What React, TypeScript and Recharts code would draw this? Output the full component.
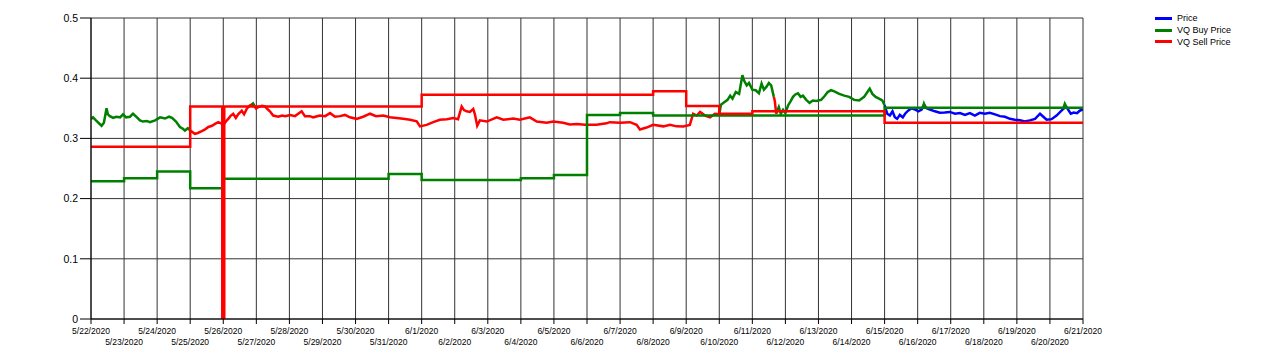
import React from "react";
import { LineChart, Line, XAxis, YAxis, CartesianGrid } from "recharts";

const FONT = '"Liberation Sans", Arial, sans-serif';
const BLUE = "#0000FF";
const GREEN = "#008000";
const RED = "#FF0000";

// x values are days since 5/22/2020
const dateLabels = [
  "5/22/2020", "5/23/2020", "5/24/2020", "5/25/2020", "5/26/2020", "5/27/2020",
  "5/28/2020", "5/29/2020", "5/30/2020", "5/31/2020", "6/1/2020", "6/2/2020",
  "6/3/2020", "6/4/2020", "6/5/2020", "6/6/2020", "6/7/2020", "6/8/2020",
  "6/9/2020", "6/10/2020", "6/11/2020", "6/12/2020", "6/13/2020", "6/14/2020",
  "6/15/2020", "6/16/2020", "6/17/2020", "6/18/2020", "6/19/2020", "6/20/2020",
  "6/21/2020",
];
const dayTicks = dateLabels.map((_, i) => i);
const priceTicks = [0, 0.1, 0.2, 0.3, 0.4, 0.5];

// step lines: day the level starts, level
const buyStepDays = [0, 1, 2, 3, 4, 9, 10, 13, 14, 15, 16, 17, 24];
const buyStepValues = [0.229, 0.234, 0.245, 0.217, 0.233, 0.241, 0.231, 0.234, 0.239, 0.339, 0.342, 0.338, 0.351];
const sellStepDays = [0, 3, 3.97, 4.03, 10, 17, 18, 19, 20, 24];
const sellStepValues = [0.286, 0.353, 0, 0.353, 0.3725, 0.3785, 0.354, 0.341, 0.345, 0.326];

// price trace, coloured by the zone it is in
const buyTraceA: [number, number][] = [
  [0, 0.332], [0.06, 0.335], [0.15, 0.33], [0.32, 0.321], [0.39, 0.326], [0.47, 0.35],
  [0.51, 0.34], [0.57, 0.337], [0.67, 0.334], [0.76, 0.336], [0.88, 0.335], [0.97, 0.34],
  [1.06, 0.335], [1.18, 0.336], [1.27, 0.341], [1.39, 0.335], [1.48, 0.33], [1.57, 0.328],
  [1.69, 0.329], [1.78, 0.327], [1.94, 0.33], [2.09, 0.335], [2.24, 0.333], [2.36, 0.336],
  [2.45, 0.334], [2.57, 0.328], [2.69, 0.319], [2.78, 0.316], [2.84, 0.313], [2.93, 0.317],
  [3.0, 0.313],
];
const sellTraceA: [number, number][] = [
  [3.0, 0.313], [3.14, 0.3075], [3.23, 0.309], [3.35, 0.312], [3.45, 0.315], [3.55, 0.319],
  [3.66, 0.321], [3.75, 0.324], [3.85, 0.327], [3.93, 0.325], [4.0, 0.322], [4.08, 0.328],
  [4.15, 0.3325], [4.23, 0.338], [4.3, 0.341], [4.38, 0.334], [4.45, 0.34], [4.56, 0.346],
  [4.63, 0.34], [4.72, 0.35], [4.81, 0.355], [4.9, 0.357], [4.99, 0.35], [5.06, 0.352],
  [5.17, 0.354], [5.26, 0.353], [5.35, 0.348], [5.41, 0.345], [5.51, 0.338], [5.66, 0.336],
  [5.78, 0.338], [5.87, 0.337], [6.02, 0.339], [6.17, 0.337], [6.37, 0.345], [6.47, 0.337],
  [6.62, 0.337], [6.72, 0.335], [6.92, 0.338], [7.08, 0.337], [7.23, 0.342], [7.38, 0.336],
  [7.53, 0.337], [7.68, 0.339], [7.83, 0.335], [8.03, 0.3325], [8.23, 0.336], [8.44, 0.341],
  [8.62, 0.337], [8.84, 0.338], [9.04, 0.335], [9.24, 0.334], [9.44, 0.3325], [9.65, 0.331],
  [9.85, 0.3285], [9.95, 0.32], [10.15, 0.3225], [10.35, 0.327], [10.55, 0.331], [10.76, 0.332],
  [10.96, 0.334], [11.1, 0.332], [11.21, 0.353], [11.28, 0.347], [11.36, 0.345], [11.46, 0.344],
  [11.56, 0.349], [11.61, 0.34], [11.68, 0.321], [11.76, 0.33], [11.97, 0.328], [12.27, 0.335],
  [12.47, 0.331], [12.77, 0.333], [12.97, 0.331], [13.27, 0.335], [13.48, 0.328], [13.78, 0.326],
  [13.98, 0.328], [14.28, 0.326], [14.48, 0.323], [14.69, 0.324], [14.94, 0.3225], [15.29, 0.3225],
  [15.59, 0.325], [15.69, 0.327], [16.0, 0.326], [16.3, 0.327], [16.5, 0.3225], [16.6, 0.3147],
  [16.8, 0.318], [17.0, 0.3225], [17.31, 0.32], [17.51, 0.3225], [17.71, 0.32], [17.91, 0.3197],
  [18.11, 0.3225], [18.21, 0.341], [18.32, 0.338], [18.42, 0.344], [18.57, 0.338], [18.72, 0.335],
  [18.87, 0.341], [19.0, 0.34],
];
const buyTraceB: [number, number][] = [
  [19.0, 0.34], [19.05, 0.356], [19.15, 0.36], [19.25, 0.364], [19.33, 0.371], [19.4, 0.366],
  [19.5, 0.377], [19.6, 0.374], [19.7, 0.405], [19.75, 0.396], [19.83, 0.388], [19.9, 0.392],
  [20.0, 0.381], [20.1, 0.38], [20.2, 0.375], [20.28, 0.391], [20.35, 0.381], [20.43, 0.386],
  [20.5, 0.392], [20.57, 0.388], [20.65, 0.369],
];
const sellTraceB: [number, number][] = [[20.65, 0.369], [20.68, 0.362], [20.72, 0.341]];
const buyTraceC: [number, number][] = [
  [20.72, 0.341], [20.8, 0.352], [20.86, 0.341], [20.93, 0.3475], [21.0, 0.342], [21.08, 0.3547],
  [21.16, 0.362], [21.23, 0.369], [21.3, 0.373], [21.38, 0.375], [21.46, 0.369], [21.53, 0.371],
  [21.63, 0.364], [21.73, 0.359], [21.83, 0.363], [21.93, 0.362], [22.08, 0.364], [22.18, 0.37],
  [22.28, 0.377], [22.38, 0.38], [22.48, 0.378], [22.63, 0.374], [22.78, 0.371], [22.93, 0.369],
  [23.08, 0.364], [23.23, 0.363], [23.38, 0.369], [23.48, 0.377], [23.55, 0.3825], [23.63, 0.374],
  [23.73, 0.369], [23.83, 0.366], [23.93, 0.363], [24.0, 0.355],
];
const priceTrace: [number, number][] = [
  [24.0, 0.355], [24.08, 0.341], [24.16, 0.338], [24.24, 0.345], [24.31, 0.3353], [24.38, 0.3325],
  [24.46, 0.339], [24.55, 0.335], [24.62, 0.341], [24.71, 0.346], [24.82, 0.35], [24.92, 0.348],
  [25.02, 0.345], [25.12, 0.348], [25.19, 0.356], [25.27, 0.35], [25.37, 0.348], [25.52, 0.345],
  [25.67, 0.3425], [25.82, 0.343], [25.97, 0.344], [26.13, 0.341], [26.28, 0.342], [26.43, 0.339],
  [26.58, 0.342], [26.73, 0.338], [26.88, 0.3425], [27.03, 0.341], [27.18, 0.3425], [27.34, 0.34],
  [27.49, 0.337], [27.64, 0.336], [27.79, 0.3325], [27.94, 0.331], [28.09, 0.33], [28.24, 0.328],
  [28.39, 0.33], [28.55, 0.3325], [28.7, 0.341], [28.8, 0.336], [28.9, 0.331], [29.05, 0.332],
  [29.2, 0.338], [29.35, 0.346], [29.42, 0.35], [29.5, 0.352], [29.63, 0.341], [29.72, 0.343],
  [29.82, 0.342], [29.9, 0.346], [30.0, 0.348],
];
const buyBlips: [number, number][][] = [
  [[4.86, 0.356], [4.9, 0.358], [4.94, 0.354]],
  [[25.15, 0.35], [25.19, 0.3575], [25.24, 0.351]],
  [[29.4, 0.349], [29.45, 0.3575], [29.5, 0.352]],
];

const legendItems = [
  { name: "Price", color: BLUE },
  { name: "VQ Buy Price", color: GREEN },
  { name: "VQ Sell Price", color: RED },
];

type Pt = { d: number; v: number };
const toPoints = (pairs: [number, number][]): Pt[] => pairs.map(([d, v]) => ({ d, v }));
const toSteps = (days: number[], values: number[], end = 30): Pt[] => {
  const pts: Pt[] = [];
  days.forEach((d, i) => {
    pts.push({ d, v: values[i] });
    pts.push({ d: i + 1 < days.length ? days[i + 1] : end, v: values[i] });
  });
  return pts;
};

// labels alternate between two rows, like the original
const DateTick = (props: any) => {
  const { x, y, payload } = props;
  const lower = payload.value % 2 === 1;
  return (
    <text x={x} y={y + (lower ? 18.5 : 7.5)} textAnchor="middle" fontSize={8.5} fontFamily={FONT} fill="#000">
      {dateLabels[payload.value]}
    </text>
  );
};

const series = [
  { key: "price", data: toPoints(priceTrace), color: BLUE },
  { key: "buyA", data: toPoints(buyTraceA), color: GREEN },
  { key: "buyB", data: toPoints(buyTraceB), color: GREEN },
  { key: "buyC", data: toPoints(buyTraceC), color: GREEN },
  { key: "sellA", data: toPoints(sellTraceA), color: RED },
  { key: "sellB", data: toPoints(sellTraceB), color: RED },
  ...buyBlips.map((b, i) => ({ key: `blip${i}`, data: toPoints(b), color: GREEN })),
  { key: "buyStep", data: toSteps(buyStepDays, buyStepValues), color: GREEN },
  { key: "sellStep", data: toSteps(sellStepDays, sellStepValues), color: RED },
];

export default function App() {
  return (
    <div style={{ position: "absolute", left: 0, top: 0, width: 1280, height: 363, background: "#fff" }}>
      <LineChart width={1280} height={363} margin={{ top: 18, right: 197, bottom: 0, left: 0 }}>
        <CartesianGrid stroke="#333" />
        <XAxis
          type="number"
          dataKey="d"
          domain={[0, 30]}
          ticks={dayTicks}
          interval={0}
          allowDataOverflow
          height={44}
          tickSize={5}
          tickMargin={2}
          tick={<DateTick />}
          axisLine={{ stroke: "#000" }}
          tickLine={{ stroke: "#000" }}
        />
        <YAxis
          type="number"
          domain={[0, 0.5]}
          ticks={priceTicks}
          allowDataOverflow
          width={91}
          tickSize={11}
          tickMargin={2}
          tick={{ fontSize: 10.5, fill: "#000", fontFamily: FONT }}
          tickFormatter={(v: number) => String(Number(v.toFixed(1)))}
          axisLine={{ stroke: "#000" }}
          tickLine={{ stroke: "#000" }}
        />
        {series.map((s) => (
          <Line
            key={s.key}
            data={s.data}
            dataKey="v"
            type="linear"
            stroke={s.color}
            strokeWidth={2.5}
            dot={false}
            activeDot={false}
            isAnimationActive={false}
          />
        ))}
      </LineChart>
      <div style={{ position: "absolute", left: 1155, top: 12.5, fontFamily: FONT, fontSize: 9, color: "#000" }}>
        {legendItems.map((it) => (
          <div key={it.name} style={{ display: "flex", alignItems: "center", height: 11.7 }}>
            <span style={{ display: "inline-block", width: 17, height: 3, background: it.color, marginRight: 5 }} />
            <span>{it.name}</span>
          </div>
        ))}
      </div>
    </div>
  );
}
